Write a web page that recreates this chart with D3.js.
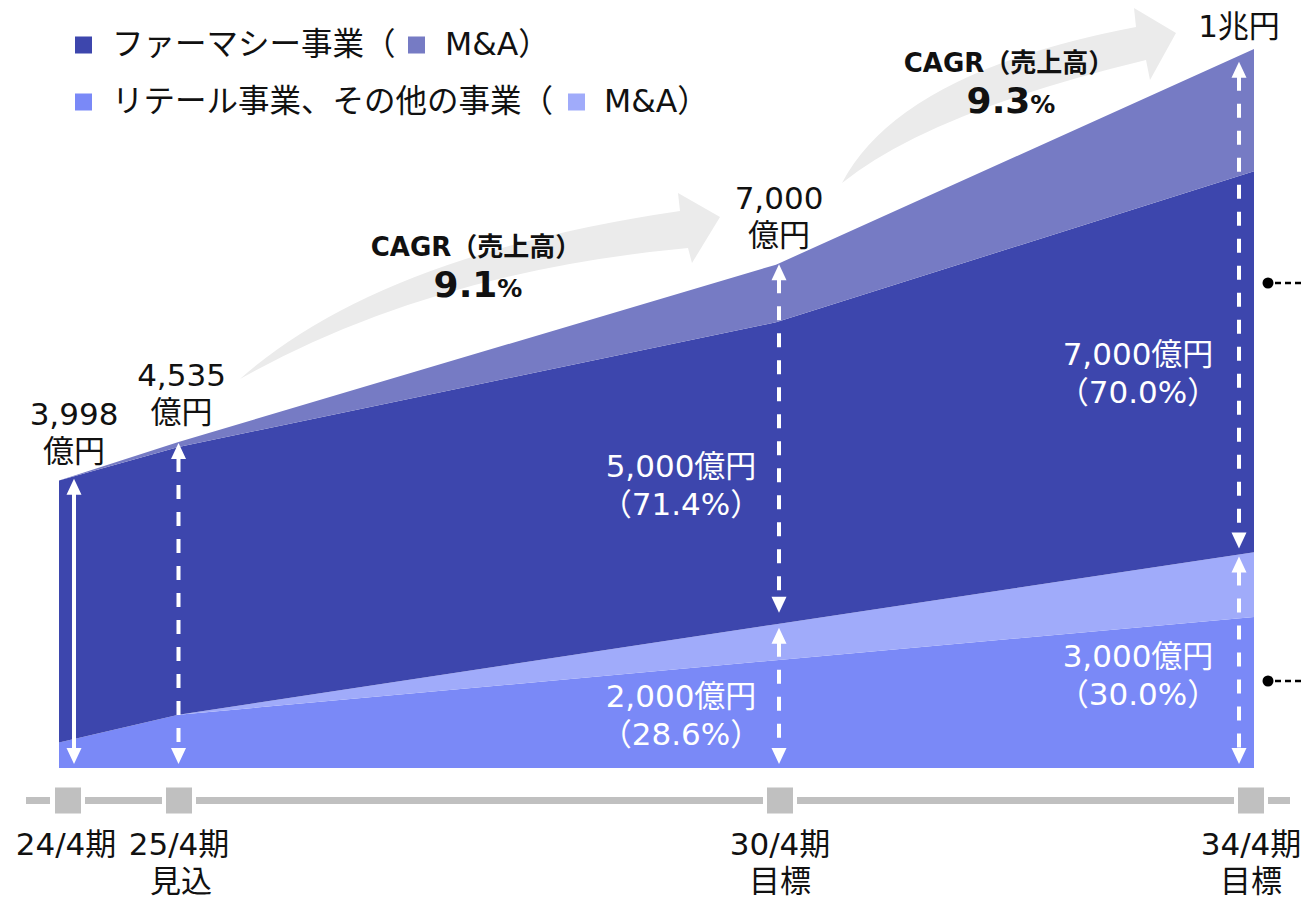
<!DOCTYPE html>
<html><head><meta charset="utf-8">
<script src="https://cdn.jsdelivr.net/npm/d3@7"></script>
<style>
body{margin:0;background:#fff;}
svg text{font-family:"DejaVu Sans","Noto Sans CJK JP",sans-serif;}
</style></head><body>
<svg id="chart" width="1304" height="900"></svg>
<script>
// Sales by segment (億円), stacked bottom to top
const periods = ["24/4期", "25/4期", "30/4期", "34/4期"];
const periodNotes = ["", "見込", "目標", "目標"];
const fiscalYears = [24, 25, 30, 34];
const retail = [356, 741, 1500, 2100];
const retailMA = [0, 0, 500, 900];
const pharmacy = [3642, 3724, 4200, 5300];
const pharmacyMA = [0, 70, 800, 1700];
const totalLabels = [["3,998", "億円"], ["4,535", "億円"], ["7,000", "億円"], ["1兆円"]];
const cagrRates = ["9.1", "9.3"];
const legendNames = ["ファーマシー事業（", "M&A）", "リテール事業、その他の事業（", "M&A）"];

const keys = ["retail", "retailMA", "pharmacy", "pharmacyMA"];
const colors = {retail: "#7a89f7", retailMA: "#a0abfa", pharmacy: "#3d46ad", pharmacyMA: "#767bc4"};

const rows = fiscalYears.map((fy, i) => ({
  fy, retail: retail[i], retailMA: retailMA[i], pharmacy: pharmacy[i], pharmacyMA: pharmacyMA[i]
}));
const series = d3.stack().keys(keys)(rows);

const svg = d3.select("#chart");
const x = d3.scaleLinear().domain([24, 34]).range([59, 1254]);
const y = d3.scaleLinear().domain([0, 10000]).range([768, 49]);
const FS = 31;

// cumulative value at a given pixel x for a stack level (index into keys)
function levelAt(px, level) {
  const fy = x.invert(px);
  const vals = rows.map(r => keys.slice(0, level + 1).reduce((s, k) => s + r[k], 0));
  const interp = d3.scaleLinear().domain(fiscalYears).range(vals).clamp(true);
  return interp(fy);
}

// --- growth arrows (background) ---
const grey = "#ebebeb";
function growthArrow(tail, upC, upEnd, headTop, tip, headBot, lowStart, lowC) {
  const p = d3.path();
  p.moveTo(...tail);
  p.quadraticCurveTo(...upC, ...upEnd);
  p.lineTo(...headTop);
  p.lineTo(...tip);
  p.lineTo(...headBot);
  p.lineTo(...lowStart);
  p.quadraticCurveTo(...lowC, ...tail);
  p.closePath();
  svg.append("path").attr("d", p.toString()).attr("fill", grey);
}
growthArrow([240, 379], [380, 255], [680, 211], [678, 193], [720, 217], [692, 263], [688, 248], [430, 272]);
growthArrow([842, 183], [900, 72], [1136, 27], [1134, 8], [1176, 33], [1150, 80], [1146, 60], [930, 112]);

// --- stacked areas ---
const area = d3.area()
  .x(d => x(d.data.fy))
  .y0(d => y(d[0]))
  .y1(d => y(d[1]));
svg.append("g").selectAll("path").data(series).join("path")
  .attr("d", area)
  .attr("fill", d => colors[d.key]);

// --- white span arrows ---
function spanArrow(px, yTop, yBot, dashed) {
  const g = svg.append("g");
  const hl = 16, hw = 7.5;
  g.append("line")
    .attr("x1", px).attr("x2", px)
    .attr("y1", yTop + hl - 1).attr("y2", yBot - hl + 1)
    .attr("stroke", "#fff").attr("stroke-width", 4)
    .attr("stroke-dasharray", dashed ? "14,13" : null);
  g.append("path").attr("fill", "#fff")
    .attr("d", `M${px},${yTop}L${px + hw},${yTop + hl}L${px - hw},${yTop + hl}Z`);
  g.append("path").attr("fill", "#fff")
    .attr("d", `M${px},${yBot}L${px + hw},${yBot - hl}L${px - hw},${yBot - hl}Z`);
}
const base = y(0);
{
  const ax0 = x(24) + 15;
  spanArrow(ax0, y(levelAt(ax0, 3)) + 3, base - 4, false);
  const ax1 = x(25);
  spanArrow(ax1, y(levelAt(ax1, 3)) + 1, base - 4, true);
  const ax2 = x(30) + 3;
  const b2 = y(levelAt(ax2, 1));
  spanArrow(ax2, y(levelAt(ax2, 3)) + 1, b2 - 11, true);
  spanArrow(ax2, b2 + 4, base - 4, true);
  const ax3 = x(34) - 15;
  const b3 = y(levelAt(ax3, 1));
  spanArrow(ax3, y(levelAt(ax3, 3)) + 6, b3 - 6, true);
  spanArrow(ax3, b3 + 2, base - 4, true);
}

// --- segment value labels (white) ---
const fmt = d3.format(",");
const pct = d3.format(".1f");
function segLabel(cx, baseY, value, total) {
  const t = svg.append("text").attr("fill", "#fff").attr("font-size", FS).attr("text-anchor", "middle");
  t.append("tspan").attr("x", cx).attr("y", baseY).text(fmt(value) + "億円");
  t.append("tspan").attr("x", cx).attr("y", baseY + 38).text("（" + pct(value / total * 100) + "%）");
}
{
  const i = 2, j = 3;
  const tot2 = retail[i] + retailMA[i] + pharmacy[i] + pharmacyMA[i];
  const tot3 = retail[j] + retailMA[j] + pharmacy[j] + pharmacyMA[j];
  segLabel(x(30) - 95, 477, pharmacy[i] + pharmacyMA[i], tot2);
  segLabel(x(30) - 95, 707, retail[i] + retailMA[i], tot2);
  segLabel(x(34) - 116, 365, pharmacy[j] + pharmacyMA[j], tot3);
  segLabel(x(34) - 116, 667, retail[j] + retailMA[j], tot3);
}

// --- total labels above each period ---
const totalX = [x(24) + 15, x(25) + 3, x(30) + 3, x(34) - 15];
totalLabels.forEach((lines, i) => {
  const tot = retail[i] + retailMA[i] + pharmacy[i] + pharmacyMA[i];
  const lastBase = y(tot) - (lines.length > 1 ? 19 : 12);
  const t = svg.append("text").attr("font-size", FS).attr("fill", "#111").attr("text-anchor", "middle");
  lines.forEach((ln, k) => {
    t.append("tspan").attr("x", totalX[i]).attr("y", lastBase - (lines.length - 1 - k) * 37).text(ln);
  });
});

// --- CAGR annotations ---
function cagr(cx, baseY, rate) {
  svg.append("text").attr("x", cx + 6).attr("y", baseY).attr("text-anchor", "middle")
    .attr("font-size", 26).attr("font-weight", "bold").attr("fill", "#111")
    .text("CAGR（売上高）");
  const t = svg.append("text").attr("x", cx + 8).attr("y", baseY + 41).attr("text-anchor", "middle")
    .attr("font-weight", "bold").attr("fill", "#111");
  t.append("tspan").attr("font-size", 36).text(rate);
  t.append("tspan").attr("font-size", 25).text("%");
}
cagr(470, 256, cagrRates[0]);
cagr(1003, 72, cagrRates[1]);

// --- timeline ---
const markerX = [x(24) + 9, x(25) + 0.5, x(30) + 4, x(34) - 3];
const tl = svg.append("g");
const ty = 800.5, half = 13, lineCol = "#c0c0c0";
function seg(a, b) {
  tl.append("line").attr("x1", a).attr("x2", b).attr("y1", ty).attr("y2", ty)
    .attr("stroke", lineCol).attr("stroke-width", 7);
}
seg(markerX[0] - half - 29, markerX[0] - half - 5);
for (let i = 0; i < markerX.length - 1; i++) seg(markerX[i] + half + 4, markerX[i + 1] - half - 4);
seg(markerX[3] + half + 4, markerX[3] + half + 26);
tl.selectAll("rect").data(markerX).join("rect")
  .attr("x", d => d - half).attr("y", ty - half).attr("width", half * 2).attr("height", half * 2)
  .attr("fill", lineCol);

// period labels
periods.forEach((p, i) => {
  const cx = i === 0 ? markerX[i] - 2 : markerX[i];
  svg.append("text").attr("x", cx).attr("y", 855).attr("text-anchor", "middle")
    .attr("font-size", FS).attr("fill", "#111").text(p);
  if (periodNotes[i]) {
    svg.append("text").attr("x", cx + (i === 1 ? 2 : 0)).attr("y", 892).attr("text-anchor", "middle")
      .attr("font-size", FS).attr("fill", "#111").text(periodNotes[i]);
  }
});

// --- side pointers ---
[283, 681].forEach(py => {
  svg.append("circle").attr("cx", 1268).attr("cy", py).attr("r", 5.5).attr("fill", "#000");
  svg.append("line").attr("x1", 1275).attr("x2", 1304).attr("y1", py).attr("y2", py)
    .attr("stroke", "#000").attr("stroke-width", 2.5).attr("stroke-dasharray", "6,4");
});

// --- legend ---
const legendItems = [
  {key: "pharmacy", name: legendNames[0], sx: 75, tx: 112, row: 0},
  {key: "pharmacyMA", name: legendNames[1], sx: 408, tx: 445, row: 0},
  {key: "retail", name: legendNames[2], sx: 75, tx: 112, row: 1},
  {key: "retailMA", name: legendNames[3], sx: 568, tx: 604, row: 1}
];
const lg = svg.append("g");
legendItems.forEach(it => {
  const cy = 45 + it.row * 57;
  lg.append("rect").attr("x", it.sx).attr("y", cy - 8.5).attr("width", 17).attr("height", 17)
    .attr("fill", colors[it.key]);
  lg.append("text").attr("x", it.tx).attr("y", cy + 10).attr("font-size", 31.5).attr("fill", "#111")
    .text(it.name);
});
</script>
</body></html>
